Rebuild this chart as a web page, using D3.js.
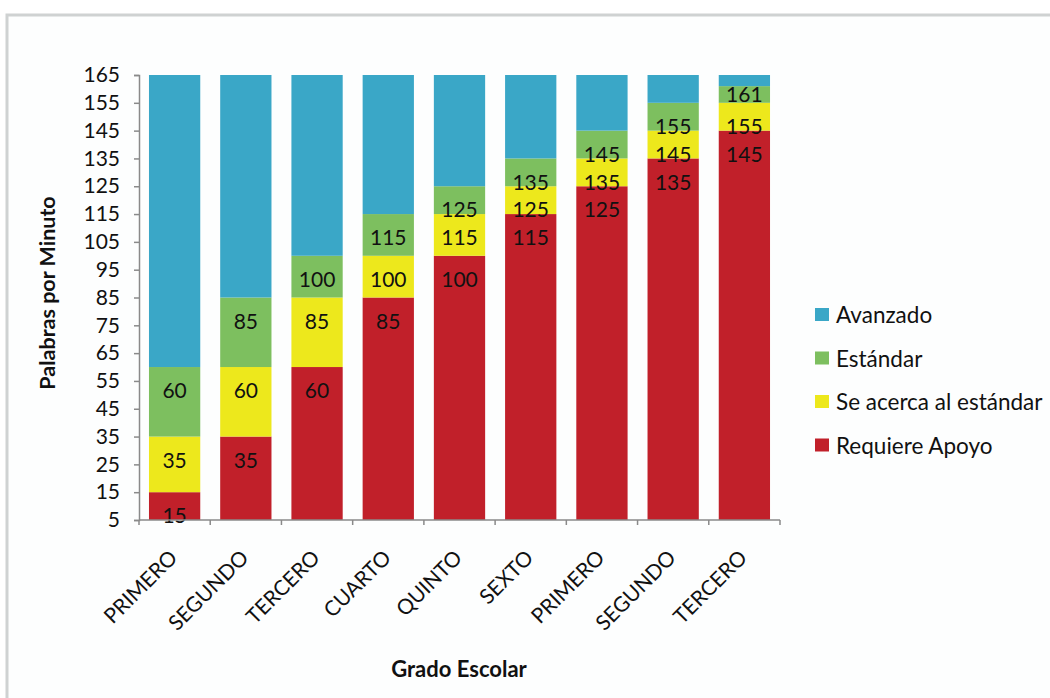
<!DOCTYPE html>
<html>
<head>
<meta charset="utf-8">
<script src="https://cdn.jsdelivr.net/npm/d3@7/dist/d3.min.js"></script>
<style>
  body { margin: 0; background: #fff; }
  svg { display: block; font-family: Lato, "Open Sans", sans-serif; }
</style>
</head>
<body>
<svg id="chart" width="1050" height="698"></svg>
<script>
// grados escolares (primaria y secundaria)
var grades = ["PRIMERO", "SEGUNDO", "TERCERO", "CUARTO", "QUINTO", "SEXTO", "PRIMERO", "SEGUNDO", "TERCERO"];
// limites superiores de cada nivel, palabras por minuto
var requiereApoyo = [15, 35, 60, 85, 100, 115, 125, 135, 145];
var seAcerca = [35, 60, 85, 100, 115, 125, 135, 145, 155];
var estandar = [60, 85, 100, 115, 125, 135, 145, 155, 161];
var avanzado = [165, 165, 165, 165, 165, 165, 165, 165, 165];
var yTicks = [5, 15, 25, 35, 45, 55, 65, 75, 85, 95, 105, 115, 125, 135, 145, 155, 165];
var seriesNames = ["Requiere Apoyo", "Se acerca al estándar", "Estándar", "Avanzado"];
var seriesColors = ["#c1202a", "#ede81c", "#7dbf5f", "#3aa7c7"];

var svg = d3.select("#chart"),
    margin = {left: 139, right: 270, top: 75, bottom: 178},
    W = +svg.attr("width"),
    H = +svg.attr("height");

// marco del documento
svg.append("rect")
    .attr("x", 7).attr("y", 15)
    .attr("width", 1100).attr("height", 800)
    .attr("fill", "#fdfefe")
    .attr("stroke", "#cfd2d2")
    .attr("stroke-width", 3);

var x = d3.scaleBand()
    .domain(d3.range(grades.length))
    .range([margin.left, W - margin.right])
    .paddingInner(0.28)
    .paddingOuter(0.14);

var y = d3.scaleLinear()
    .domain([5, 165])
    .range([H - margin.bottom, margin.top]);

var levels = [requiereApoyo, seAcerca, estandar, avanzado];

levels.forEach(function (vals, s) {
    var g = svg.append("g").attr("class", "serie-" + s);
    vals.forEach(function (top, i) {
        var bottom = s === 0 ? 5 : levels[s - 1][i];
        g.append("rect")
            .attr("x", x(i))
            .attr("width", x.bandwidth())
            .attr("y", y(top))
            .attr("height", y(bottom) - y(top))
            .attr("fill", seriesColors[s]);
    });
});

// etiquetas de valor (no para Avanzado)
levels.slice(0, 3).forEach(function (vals, s) {
    vals.forEach(function (top, i) {
        var bottom = s === 0 ? 5 : levels[s - 1][i],
            pos = (top - bottom) < 9 ? (top + bottom) / 2 : top - 8.5;
        svg.append("text")
            .attr("x", x(i) + x.bandwidth() / 2)
            .attr("y", y(pos))
            .attr("dy", "0.36em")
            .attr("text-anchor", "middle")
            .attr("font-size", 21)
            .attr("fill", "#111")
            .text(top);
    });
});

// eje y
var yAxis = svg.append("g")
    .attr("transform", "translate(" + margin.left + ",0)")
    .call(d3.axisLeft(y).tickValues(yTicks).tickSize(5).tickPadding(14));
yAxis.selectAll("text").attr("font-size", 21).attr("fill", "#111").attr("font-family", "Lato, sans-serif");
yAxis.selectAll("line, path").attr("stroke", "#8a8a8a").attr("stroke-width", 1.5);

// eje x, marcas entre categorias
var xBase = H - margin.bottom;
svg.append("line")
    .attr("x1", margin.left).attr("x2", W - margin.right)
    .attr("y1", xBase).attr("y2", xBase)
    .attr("stroke", "#8a8a8a").attr("stroke-width", 1.5);
d3.range(grades.length + 1).forEach(function (i) {
    var xx = margin.left + i * x.step();
    svg.append("line")
        .attr("x1", xx).attr("x2", xx)
        .attr("y1", xBase).attr("y2", xBase + 5)
        .attr("stroke", "#8a8a8a").attr("stroke-width", 1.5);
});

grades.forEach(function (name, i) {
    var cx = x(i) + x.bandwidth() / 2 + 4, cy = xBase + 39;
    svg.append("text")
        .attr("transform", "translate(" + cx + "," + cy + ") rotate(-45)")
        .attr("text-anchor", "end")
        .attr("font-size", 21)
        .attr("fill", "#111")
        .text(name);
});

// titulos de ejes
svg.append("text")
    .attr("transform", "translate(55,293) rotate(-90)")
    .attr("text-anchor", "middle")
    .attr("font-size", 21.5)
    .attr("font-weight", "bold")
    .attr("fill", "#111")
    .text("Palabras por Minuto");

svg.append("text")
    .attr("x", 459)
    .attr("y", 677)
    .attr("text-anchor", "middle")
    .attr("font-size", 22)
    .attr("font-weight", "bold")
    .attr("fill", "#111")
    .text("Grado Escolar");

// leyenda
var legend = svg.append("g").attr("transform", "translate(815,315)");
seriesNames.slice().reverse().forEach(function (name, k) {
    var row = legend.append("g").attr("transform", "translate(0," + (k * 43.5) + ")");
    row.append("rect")
        .attr("x", 0).attr("y", -7)
        .attr("width", 14).attr("height", 13)
        .attr("fill", seriesColors[seriesColors.length - 1 - k]);
    row.append("text")
        .attr("x", 21).attr("y", 0)
        .attr("dy", "0.36em")
        .attr("font-size", 22.5)
        .attr("fill", "#111")
        .text(name);
});
</script>
</body>
</html>
